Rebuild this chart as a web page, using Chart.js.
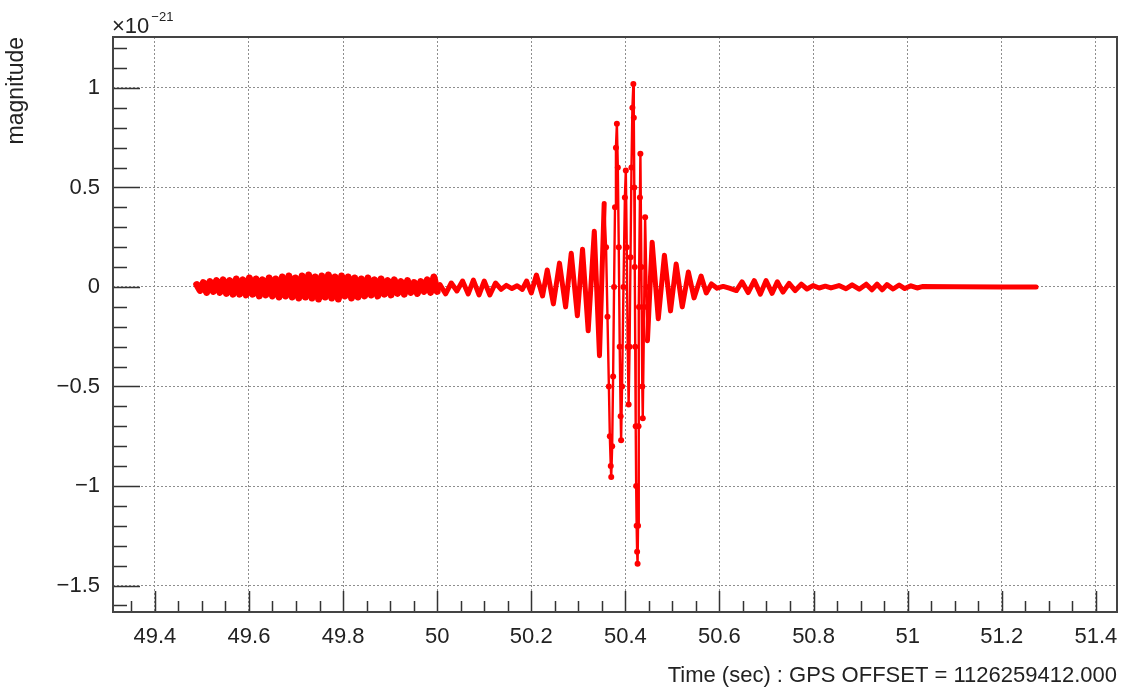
<!DOCTYPE html>
<html>
<head>
<meta charset="utf-8">
<script src="https://cdn.jsdelivr.net/npm/chart.js@4.4.0/dist/chart.umd.min.js"></script>
<style>
  html, body { margin: 0; padding: 0; background: #fff; }
</style>
</head>
<body>
<canvas id="myChart" width="1122" height="697"></canvas>
<script>
// strain in units of 1e-21, time in sec after GPS offset
const noiseTimes = [49.489, 49.496, 49.503, 49.510, 49.517, 49.524, 49.531, 49.538, 49.545, 49.552,
  49.559, 49.566, 49.573, 49.580, 49.587, 49.594, 49.601, 49.608, 49.615, 49.622,
  49.629, 49.636, 49.643, 49.650, 49.657, 49.664, 49.671, 49.678, 49.685, 49.692,
  49.699, 49.706, 49.713, 49.720, 49.727, 49.734, 49.741, 49.748, 49.755, 49.762,
  49.769, 49.776, 49.783, 49.790, 49.797, 49.804, 49.811, 49.818, 49.825, 49.832,
  49.839, 49.846, 49.853, 49.860, 49.867, 49.874, 49.881, 49.888, 49.895, 49.902,
  49.909, 49.916, 49.923, 49.930, 49.937, 49.944, 49.951, 49.958, 49.965, 49.972,
  49.979, 49.986, 49.993, 50.000];
const noiseStrain = [0.012, -0.017, 0.022, -0.027, 0.027, -0.022, 0.032, -0.027, 0.036, -0.032,
  0.032, -0.036, 0.04, -0.036, 0.036, -0.04, 0.045, -0.036, 0.04, -0.045,
  0.036, -0.04, 0.045, -0.045, 0.04, -0.05, 0.05, -0.045, 0.055, -0.05,
  0.045, -0.055, 0.055, -0.05, 0.06, -0.055, 0.05, -0.06, 0.055, -0.05,
  0.06, -0.055, 0.05, -0.06, 0.055, -0.045, 0.05, -0.055, 0.045, -0.05,
  0.04, -0.045, 0.045, -0.04, 0.036, -0.045, 0.04, -0.036, 0.032, -0.04,
  0.036, -0.032, 0.027, -0.036, 0.032, -0.027, 0.022, -0.032, 0.027, -0.022,
  0.036, -0.027, 0.05, -0.022];

const quietTimes = [50.006, 50.018, 50.030, 50.042, 50.054, 50.066, 50.077, 50.089, 50.100,
  50.112, 50.124, 50.136, 50.147, 50.159, 50.170, 50.181, 50.190, 50.200];
const quietStrain = [0.012, -0.035, 0.02, -0.02, 0.03, -0.035, 0.035, -0.04, 0.03,
  -0.04, 0.02, -0.012, 0.008, -0.008, 0.006, -0.012, 0.03, -0.03];

const chirpTimes = [50.211, 50.224, 50.234, 50.247, 50.260, 50.273, 50.285, 50.298, 50.309,
  50.321, 50.334, 50.345];
const chirpStrain = [0.06, -0.045, 0.085, -0.085, 0.12, -0.1, 0.17, -0.145, 0.19,
  -0.22, 0.28, -0.345];

const mergerTimes = [50.355, 50.359, 50.362, 50.365, 50.367, 50.369, 50.370, 50.372, 50.374,
  50.376, 50.378, 50.380, 50.382, 50.384, 50.386, 50.388, 50.390, 50.391, 50.393,
  50.396, 50.399, 50.401, 50.403, 50.405, 50.407, 50.409, 50.411, 50.413, 50.415,
  50.417, 50.418, 50.419, 50.420, 50.421, 50.422, 50.423, 50.424, 50.425, 50.426,
  50.427, 50.428, 50.429, 50.431, 50.432, 50.434, 50.436, 50.437, 50.440, 50.442,
  50.445, 50.447];
const mergerStrain = [0.42, 0.2, -0.15, -0.5, -0.75, -0.9, -0.955, -0.8, -0.45,
  0.0, 0.4, 0.7, 0.82, 0.6, 0.2, -0.3, -0.65, -0.77, -0.5,
  0.0, 0.45, 0.585, 0.2, -0.3, -0.59, -0.3, 0.15, 0.6, 0.9,
  1.02, 0.85, 0.5, 0.1, -0.3, -0.7, -1.0, -1.2, -1.33, -1.39,
  -1.2, -0.7, -0.1, 0.45, 0.67, 0.1, -0.5, -0.66, -0.1, 0.35,
  0.0, -0.27];

const ringTimes = [50.457, 50.470, 50.483, 50.496, 50.508, 50.521, 50.534, 50.546, 50.561,
  50.572, 50.583, 50.595, 50.608, 50.621, 50.636, 50.648, 50.661, 50.674, 50.687,
  50.699, 50.712, 50.723, 50.735, 50.748, 50.761, 50.774, 50.786, 50.799, 50.812,
  50.825, 50.837, 50.854, 50.869, 50.882, 50.897, 50.912, 50.924, 50.935, 50.946,
  50.956, 50.969, 50.982, 50.994, 51.007, 51.020, 51.031, 51.100, 51.200, 51.273];
const ringStrain = [0.225, -0.16, 0.16, -0.12, 0.115, -0.1, 0.075, -0.055, 0.055,
  -0.03, 0.015, -0.006, 0.003, -0.006, -0.018, 0.026, -0.028, 0.032, -0.036,
  0.032, -0.032, 0.026, -0.026, 0.018, -0.018, 0.014, -0.01, 0.007, -0.005,
  0.004, -0.005, 0.007, -0.009, 0.011, -0.011, 0.014, -0.014, 0.014, -0.014,
  0.012, -0.01, 0.01, -0.008, 0.006, -0.005, 0.002, 0.001, 0.0, 0.0];

const xTicks = [49.4, 49.6, 49.8, 50, 50.2, 50.4, 50.6, 50.8, 51, 51.2, 51.4];
const yTicks = [-1.5, -1, -0.5, 0, 0.5, 1];

const times = [].concat(noiseTimes, quietTimes, chirpTimes, mergerTimes, ringTimes);
const strain = [].concat(noiseStrain, quietStrain, chirpStrain, mergerStrain, ringStrain);
const points = times.map((t, i) => ({ x: t, y: strain[i] }));

const FONT = 'Liberation Sans, Arial, Helvetica, sans-serif';
const inMerger = t => t > 50.356 && t < 50.446;
const inNoise = t => t <= 50.0;
const fmt = v => (v < 0 ? '\u2212' : '') + Math.abs(v);

// ROOT style frame with inward ticks + exponent label
const rootFrame = {
  id: 'rootFrame',
  afterDatasetsDraw(chart) {
    const { ctx, chartArea: a, scales: { x, y } } = chart;
    ctx.save();
    ctx.strokeStyle = '#333';
    ctx.lineWidth = 1.5;
    ctx.beginPath();
    for (let k = Math.ceil(x.min * 20); k <= Math.floor(x.max * 20); k++) {
      const px = Math.round(x.getPixelForValue(k / 20)) + 0.5;
      const len = k % 4 === 0 ? 21 : 11;
      ctx.moveTo(px, a.bottom);
      ctx.lineTo(px, a.bottom - len);
    }
    for (let k = Math.ceil(y.min * 10); k <= Math.floor(y.max * 10); k++) {
      const py = Math.round(y.getPixelForValue(k / 10)) + 0.5;
      const len = k % 5 === 0 ? 27 : 14;
      ctx.moveTo(a.left, py);
      ctx.lineTo(a.left + len, py);
    }
    ctx.stroke();
    ctx.strokeStyle = '#444';
    ctx.lineWidth = 2;
    ctx.strokeRect(a.left, a.top, a.right - a.left, a.bottom - a.top);

    ctx.fillStyle = '#222';
    ctx.textBaseline = 'alphabetic';
    ctx.textAlign = 'left';
    ctx.font = '22px ' + FONT;
    ctx.fillText('\u00d710', a.left - 1, 33);
    const w = ctx.measureText('\u00d710').width;
    ctx.font = '13px ' + FONT;
    ctx.fillText('\u221221', a.left + w + 1, 21);
    ctx.restore();
  }
};

const config = {
  type: 'line',
  data: {
    datasets: [{
      data: points,
      borderColor: '#ff0000',
      backgroundColor: '#ff0000',
      borderWidth: 5,
      borderJoinStyle: 'round',
      borderCapStyle: 'round',
      tension: 0,
      pointRadius: ctx => (ctx.raw && inMerger(ctx.raw.x)) ? 3 : 0,
      pointBorderWidth: 0,
      pointHoverRadius: 0,
      segment: {
        borderWidth: ctx => {
          const a = ctx.p0.parsed.x, b = ctx.p1.parsed.x;
          if (inMerger(a) || inMerger(b)) return 2.4;
          if (inNoise(b)) return 7;
          return undefined;
        }
      }
    }]
  },
  plugins: [rootFrame],
  options: {
    responsive: false,
    animation: false,
    layout: { padding: { top: 37, right: 5, left: 0, bottom: 0 } },
    plugins: { legend: { display: false }, tooltip: { enabled: false } },
    scales: {
      x: {
        type: 'linear',
        min: 49.311,
        max: 51.445,
        afterBuildTicks: s => { s.ticks = xTicks.map(v => ({ value: v })); },
        afterFit: s => { s.height = 85; s.paddingLeft = 0; s.paddingRight = 0; },
        grid: { color: '#8e8e8e', lineWidth: 1, drawTicks: false },
        border: { display: false, dash: [2, 2] },
        ticks: {
          autoSkip: false, maxRotation: 0, padding: 12,
          color: '#222', font: { family: FONT, size: 22 },
          callback: v => fmt(v)
        },
        title: {
          display: true, align: 'end',
          text: 'Time (sec) : GPS OFFSET = 1126259412.000',
          color: '#222', font: { family: FONT, size: 22 },
          padding: { top: 0, bottom: 8 }
        }
      },
      y: {
        type: 'linear',
        min: -1.633,
        max: 1.256,
        afterBuildTicks: s => { s.ticks = yTicks.map(v => ({ value: v })); },
        afterFit: s => { s.width = 113; s.paddingTop = 0; s.paddingBottom = 0; },
        grid: { color: '#8e8e8e', lineWidth: 1, drawTicks: false },
        border: { display: false, dash: [2, 2] },
        ticks: {
          padding: 13,
          color: '#222', font: { family: FONT, size: 22 },
          callback: v => fmt(v)
        },
        title: {
          display: true, align: 'end',
          text: 'magnitude',
          color: '#222', font: { family: FONT, size: 23 },
          padding: { top: 3, bottom: 0 }
        }
      }
    }
  }
};

const myChart = new Chart(document.getElementById('myChart'), config);
</script>
</body>
</html>
